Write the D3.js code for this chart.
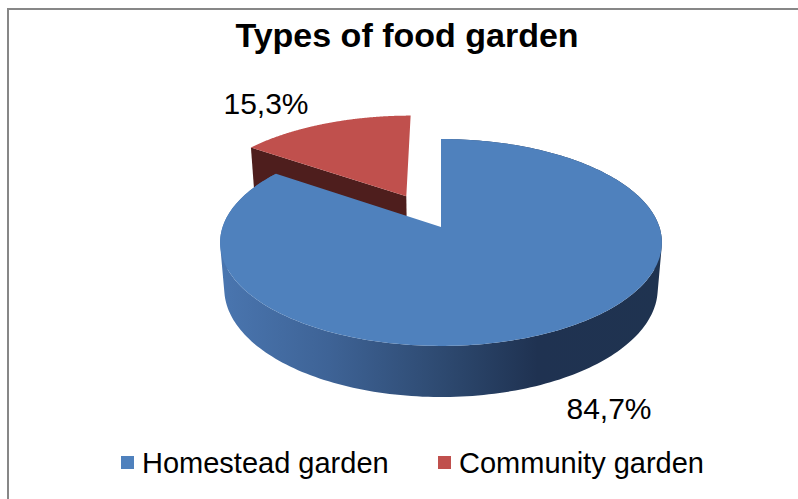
<!DOCTYPE html>
<html>
<head>
<meta charset="utf-8">
<script src="https://cdn.jsdelivr.net/npm/d3@7/dist/d3.min.js"></script>
<style>
  html, body { margin: 0; padding: 0; background: #ffffff; }
  svg { display: block; }
  text { font-family: "Liberation Sans", Arial, sans-serif; fill: #000; }
</style>
</head>
<body>
<svg id="chart" width="798" height="499"></svg>
<script>
// Chart data
const title = "Types of food garden";
const categories = ["Homestead garden", "Community garden"];
const values = [84.7, 15.3];
const valueLabels = ["84,7%", "15,3%"];

// Styling
const topColors = ["#4f81bd", "#c0504d"];
const cutFaceColors = ["#1f3350", "#4e1e1d"];
const explode = [0, 0.36];            // radial offset of each slice (in pie radii)

// Perspective camera for the 3D pie
const cam = { cx: 441, cy: 227, f: 1293, D: 5.92, elev: Math.asin(0.463), h: 0.241 };
const cosE = Math.cos(cam.elev), sinE = Math.sin(cam.elev);

function project(X, Y, Z) {
  const yc = Y * cosE - Z * sinE;
  const zc = Y * sinE + Z * cosE;
  const w = cam.D - zc;
  return [cam.cx + cam.f * X / w, cam.cy - cam.f * yc / w];
}

const svg = d3.select("#chart");

// Frame
svg.append("rect")
  .attr("x", 8).attr("y", 9).attr("width", 800).attr("height", 500)
  .attr("fill", "#fff").attr("stroke", "#878787").attr("stroke-width", 2);

// Side gradient for the blue slice wall
const defs = svg.append("defs");
const grad = defs.append("linearGradient")
  .attr("id", "sideBlue").attr("gradientUnits", "userSpaceOnUse")
  .attr("x1", 218).attr("x2", 662).attr("y1", 0).attr("y2", 0);
[[0, "#4a76b0"], [0.25, "#3e6396"], [0.5, "#2e4a71"], [0.72, "#1f3251"], [1, "#1f3350"]]
  .forEach(([o, c]) => grad.append("stop").attr("offset", o).attr("stop-color", c));

const arcs = d3.pie().sort(null).value(d => d)(values);
const line = d3.line();
const N = 240;

function sliceGeom(a, i) {
  const mid = (a.startAngle + a.endAngle) / 2;
  const ox = explode[i] * Math.sin(mid), oz = -explode[i] * Math.cos(mid);
  const rim = (ang, Y) => project(ox + Math.sin(ang), Y, oz - Math.cos(ang));
  const apex = Y => project(ox, Y, oz);
  const angs = d3.range(N + 1).map(k => a.startAngle + (a.endAngle - a.startAngle) * k / N);
  return { rim, apex, angs };
}

const g = svg.append("g");

// Draw back slice (red) first, then the front slice (blue)
[1, 0].forEach(i => {
  const a = arcs[i];
  const { rim, apex, angs } = sliceGeom(a, i);
  const h = -cam.h;

  if (i === 0) {
    // Outer wall as a union of consistently oriented strips
    let d = "";
    for (let k = 0; k < angs.length - 1; k++) {
      let q = [rim(angs[k], 0), rim(angs[k + 1], 0), rim(angs[k + 1], h), rim(angs[k], h)];
      if (d3.polygonArea(q) < 0) q = q.reverse();
      d += line(q) + "Z";
    }
    g.append("path").attr("d", d).attr("fill", "url(#sideBlue)");
  } else {
    // Radial cut face at the start angle (faces the viewer)
    const face = [apex(0), rim(a.startAngle, 0), rim(a.startAngle, h), apex(h)];
    g.append("path").attr("d", line(face) + "Z").attr("fill", cutFaceColors[i]);
  }

  const top = [apex(0)].concat(angs.map(t => rim(t, 0)));
  g.append("path").attr("d", line(top) + "Z").attr("fill", topColors[i]);
});

// Title
svg.append("text")
  .attr("x", 407).attr("y", 47)
  .attr("text-anchor", "middle")
  .style("font-size", "34px").style("font-weight", "bold")
  .text(title);

// Value labels
const labelPos = [[609, 419], [266, 114]];
valueLabels.forEach((t, i) => {
  svg.append("text")
    .attr("x", labelPos[i][0]).attr("y", labelPos[i][1])
    .attr("text-anchor", "middle")
    .style("font-size", "30px")
    .text(t);
});

// Legend
const legend = svg.append("g");
const legX = [121, 438];
categories.forEach((c, i) => {
  legend.append("rect")
    .attr("x", legX[i]).attr("y", 456).attr("width", 13).attr("height", 13)
    .attr("fill", topColors[i]);
  legend.append("text")
    .attr("x", legX[i] + 21).attr("y", 473)
    .style("font-size", "29px")
    .text(c);
});
</script>
</body>
</html>
